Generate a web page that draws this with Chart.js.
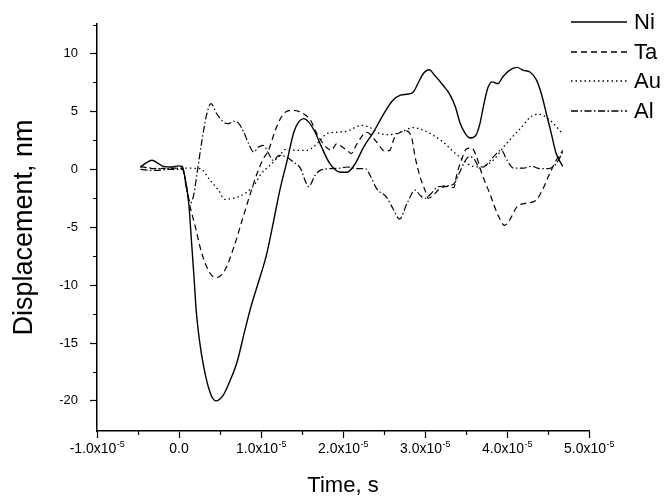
<!DOCTYPE html>
<html>
<head>
<meta charset="utf-8">
<script src="https://cdn.jsdelivr.net/npm/chart.js@4/dist/chart.umd.min.js"></script>
<style>
html,body{margin:0;padding:0;background:#fff;}
#wrap{position:relative;width:667px;height:499px;overflow:hidden;}
#legend{position:absolute;left:571px;top:7px;font-family:"Liberation Sans",Arial,sans-serif;font-size:22px;color:#000;line-height:1;}
.row{display:flex;align-items:center;height:29.8px;white-space:nowrap;}
.row svg{width:56px;height:4px;margin-right:7px;flex:none;}
</style>
</head>
<body>
<div id="wrap"><canvas id="c" width="667" height="499"></canvas><div id="legend"></div></div>
<script>
// time values in units of 1e-5 s, displacement in nm
const seriesNames = ['Ni', 'Ta', 'Au', 'Al'];

const niTime = [-0.47,-0.4,-0.33,-0.25,-0.19,-0.1,0.0,0.04,0.08,0.12,0.15,0.18,0.21,0.25,0.3,0.38,0.45,0.54,0.62,0.71,0.8,0.88,0.98,1.07,1.15,1.23,1.32,1.4,1.46,1.52,1.58,1.66,1.74,1.84,1.96,2.05,2.15,2.25,2.37,2.49,2.6,2.7,2.8,2.86,2.92,2.98,3.05,3.12,3.22,3.3,3.37,3.43,3.49,3.55,3.62,3.67,3.72,3.77,3.82,3.89,3.95,4.03,4.12,4.2,4.28,4.36,4.42,4.48,4.54,4.6,4.68];
const niDisp = [0.2,0.55,0.78,0.5,0.25,0.2,0.3,0.26,-1.0,-3.0,-6.0,-9.0,-12.2,-14.8,-17.0,-19.3,-20.0,-19.5,-18.3,-16.6,-14.0,-11.8,-9.5,-7.3,-4.6,-1.8,0.8,3.2,4.1,4.38,4.1,3.2,1.9,0.49,-0.23,-0.25,0.5,1.9,3.2,4.7,5.9,6.4,6.5,6.7,7.5,8.27,8.6,8.1,7.26,6.5,5.4,3.95,3.1,2.7,2.94,3.95,5.7,7.1,7.55,7.4,8.0,8.55,8.8,8.55,8.4,7.7,6.5,4.8,3.1,1.36,0.26];

const taTime = [-0.47,-0.3,-0.1,0.04,0.08,0.12,0.2,0.28,0.38,0.46,0.56,0.67,0.77,0.87,0.95,1.02,1.09,1.19,1.27,1.36,1.46,1.54,1.6,1.68,1.76,1.86,1.92,1.96,2.05,2.1,2.17,2.29,2.41,2.51,2.57,2.63,2.7,2.78,2.84,2.88,2.94,3.0,3.04,3.12,3.18,3.28,3.35,3.39,3.45,3.51,3.57,3.63,3.69,3.79,3.9,3.97,4.03,4.12,4.21,4.35,4.44,4.52,4.6,4.68];
const taDisp = [0.26,0.05,0.1,0.1,-1.0,-2.7,-5.0,-7.3,-9.0,-9.36,-8.7,-6.7,-4.4,-2.1,-0.4,0.8,1.64,3.66,4.75,5.1,5.0,4.7,4.3,3.1,2.2,1.64,2.2,2.07,1.64,1.36,2.2,3.2,2.36,1.58,1.64,2.8,3.2,3.3,2.65,1.06,-0.66,-1.8,-2.5,-2.1,-1.67,-1.47,-1.58,-0.37,0.92,1.79,1.84,1.06,-0.3,-2.1,-4.1,-4.84,-4.4,-3.26,-2.96,-2.7,-1.67,-0.37,0.78,1.64];

const auTime = [-0.47,-0.2,0.04,0.26,0.38,0.48,0.56,0.71,0.83,0.93,0.99,1.11,1.23,1.29,1.43,1.56,1.64,1.72,1.8,1.92,2.05,2.23,2.33,2.45,2.57,2.7,2.86,2.98,3.1,3.22,3.35,3.47,3.55,3.67,3.83,3.99,4.16,4.32,4.4,4.5,4.6,4.66];
const auDisp = [0.2,0.05,0.1,0.06,-0.95,-1.8,-2.6,-2.4,-1.96,-1.24,-0.5,0.35,1.2,1.7,1.64,1.64,1.93,2.5,3.08,3.2,3.3,3.8,3.6,3.08,3.0,3.2,3.6,3.37,2.94,2.36,1.5,0.78,0.35,0.2,0.78,2.2,3.5,4.67,4.75,4.38,3.7,3.2];

const alTime = [-0.47,-0.3,-0.1,0.04,0.1,0.14,0.18,0.22,0.28,0.34,0.39,0.46,0.54,0.6,0.67,0.73,0.79,0.85,0.91,0.97,1.03,1.09,1.15,1.22,1.3,1.4,1.48,1.54,1.58,1.66,1.72,1.84,1.96,2.05,2.17,2.27,2.33,2.41,2.53,2.61,2.69,2.78,2.88,2.94,3.0,3.06,3.14,3.22,3.3,3.36,3.42,3.48,3.54,3.6,3.67,3.75,3.85,3.93,4.0,4.08,4.2,4.3,4.4,4.5,4.6,4.68];
const alDisp = [0.0,-0.1,0.0,0.0,-2.0,-2.9,-2.2,-0.37,2.5,4.8,5.67,4.8,4.1,3.95,4.15,3.95,3.2,2.2,1.5,1.93,2.07,1.4,0.78,1.2,1.1,0.6,0.1,-1.0,-1.5,-0.52,-0.09,0.06,0.1,0.2,0.06,0.06,-0.52,-1.67,-2.4,-3.4,-4.3,-2.96,-1.8,-2.25,-2.5,-2.2,-1.6,-1.45,-1.4,-1.2,-0.3,0.6,1.1,0.9,0.1,0.4,1.2,1.64,0.8,0.1,0.1,0.26,0.06,0.06,0.49,1.5];

const xTickValues = [-1, 0, 1, 2, 3, 4, 5];          // x 1e-5 s
const xMinorValues = [-0.5, 0.5, 1.5, 2.5, 3.5, 4.5];
const yTickValues = [-20, -15, -10, -5, 0, 5, 10];
const yMinorValues = [-17.5, -12.5, -7.5, -2.5, 2.5, 7.5, 12.5];
const timeUnit = 1e-5;

const styles = [
  {dash: [], width: 1.4},
  {dash: [6, 4], width: 1.2},
  {dash: [1.5, 3], width: 1.3},
  {dash: [7, 2.5, 1.5, 2.5], width: 1.2}
];
const times = [niTime, taTime, auTime, alTime];
const disps = [niDisp, taDisp, auDisp, alDisp];

const datasets = seriesNames.map((name, k) => ({
  label: name,
  data: times[k].map((t, i) => ({x: t * timeUnit, y: disps[k][i]})),
  borderColor: '#000',
  backgroundColor: 'rgba(0,0,0,0)',
  borderWidth: styles[k].width,
  borderDash: styles[k].dash,
  pointRadius: 0,
  fill: false,
  cubicInterpolationMode: 'monotone'
}));

const fontFam = '"Liberation Sans", Arial, sans-serif';

// x tick labels with a real superscript exponent, placed by the x scale
const sciTickLabels = {
  id: 'sciTickLabels',
  afterDraw(chart) {
    const {ctx, scales: {x}} = chart;
    ctx.save();
    ctx.fillStyle = '#000';
    ctx.textBaseline = 'alphabetic';
    const mainFont = '14px ' + fontFam;
    const supFont = '9px ' + fontFam;
    const baseY = x.top + 22;
    xTickValues.forEach(v => {
      const px = x.getPixelForValue(v * timeUnit);
      if (v === 0) {
        ctx.font = mainFont; ctx.textAlign = 'center';
        ctx.fillText('0.0', px, baseY);
        return;
      }
      const main = v.toFixed(1) + 'x10';
      const sup = '-5';
      ctx.font = mainFont; const wm = ctx.measureText(main).width;
      ctx.font = supFont; const ws = ctx.measureText(sup).width;
      const start = px - (wm + ws) / 2;
      ctx.textAlign = 'left';
      ctx.font = mainFont; ctx.fillText(main, start, baseY);
      ctx.font = supFont; ctx.fillText(sup, start + wm + 0.5, baseY - 6.5);
    });
    ctx.restore();
  }
};

const minorTicks = {
  id: 'minorTicks',
  afterDraw(chart) {
    const {ctx, scales: {x, y}} = chart;
    ctx.save();
    ctx.strokeStyle = '#000';
    ctx.lineWidth = 1.2;
    ctx.beginPath();
    xMinorValues.forEach(v => {
      const px = Math.round(x.getPixelForValue(v * timeUnit)) + 0.5;
      ctx.moveTo(px, x.top);
      ctx.lineTo(px, x.top + 4);
    });
    yMinorValues.forEach(v => {
      if (v > y.max || v < y.min) return;
      const py = Math.round(y.getPixelForValue(v)) + 0.5;
      ctx.moveTo(y.right, py);
      ctx.lineTo(y.right - 4, py);
    });
    ctx.stroke();
    ctx.restore();
  }
};

const htmlLegend = {
  id: 'htmlLegend',
  afterUpdate(chart) {
    const box = document.getElementById('legend');
    box.innerHTML = '';
    chart.data.datasets.forEach(ds => {
      const row = document.createElement('div');
      row.className = 'row';
      const ns = 'http://www.w3.org/2000/svg';
      const svg = document.createElementNS(ns, 'svg');
      svg.setAttribute('width', '56'); svg.setAttribute('height', '4');
      const line = document.createElementNS(ns, 'line');
      line.setAttribute('x1', '0'); line.setAttribute('x2', '56');
      line.setAttribute('y1', '2'); line.setAttribute('y2', '2');
      line.setAttribute('stroke', '#000');
      line.setAttribute('stroke-width', '1.3');
      if (ds.borderDash.length) line.setAttribute('stroke-dasharray', ds.borderDash.join(' '));
      svg.appendChild(line);
      const txt = document.createElement('span');
      txt.textContent = ds.label;
      row.appendChild(svg);
      row.appendChild(txt);
      box.appendChild(row);
    });
  }
};

new Chart(document.getElementById('c'), {
  type: 'line',
  data: {datasets},
  options: {
    responsive: false,
    animation: false,
    devicePixelRatio: 1,
    layout: {padding: {top: 24, right: 78, bottom: 0, left: 0}},
    plugins: {legend: {display: false}, tooltip: {enabled: false}},
    scales: {
      x: {
        type: 'linear',
        min: -1e-5,
        max: 5e-5,
        border: {display: true, color: '#000', width: 1.5},
        grid: {display: true, drawOnChartArea: false, drawTicks: true, tickLength: 7, color: '#000', tickWidth: 1.2},
        afterBuildTicks: s => { s.ticks = xTickValues.map(v => ({value: v * timeUnit})); },
        afterFit: s => { s.height = 68; },
        ticks: {display: false, autoSkip: false, maxRotation: 0, minRotation: 0},
        title: {display: true, text: 'Time, s', color: '#000', font: {family: fontFam, size: 22}, padding: {top: 0, bottom: 0}}
      },
      y: {
        type: 'linear',
        min: -22.6,
        max: 12.55,
        border: {display: true, color: '#000', width: 1.5},
        grid: {display: true, drawOnChartArea: false, drawTicks: true, tickLength: 7, color: '#000', tickWidth: 1.2},
        afterBuildTicks: s => { s.ticks = yTickValues.map(v => ({value: v})); },
        afterFit: s => { s.width = 97; },
        ticks: {
          autoSkip: false, padding: 12, color: '#000',
          font: {family: fontFam, size: 13},
          callback: v => String(v)
        },
        title: {display: true, text: 'Displacement, nm', color: '#000', font: {family: fontFam, size: 27}, padding: {top: 8, bottom: 0}}
      }
    }
  },
  plugins: [minorTicks, sciTickLabels, htmlLegend]
});
</script>
</body>
</html>
